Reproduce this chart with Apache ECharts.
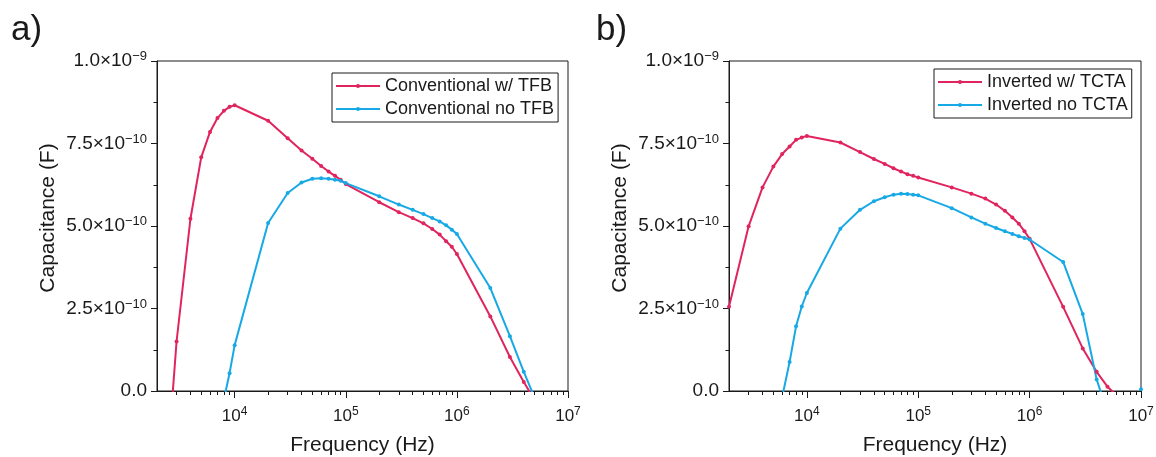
<!DOCTYPE html>
<html>
<head>
<meta charset="utf-8">
<script src="https://cdn.jsdelivr.net/npm/echarts@6/dist/echarts.min.js"></script>
<style>
html,body{margin:0;padding:0;background:#fff;}
#chart{width:1156px;height:457px;}
</style>
</head>
<body>
<div id="chart"></div>
<script>
// Frequencies (Hz)
const freq = [2000,3000,4000,5000,6000,7000,8000,9000,
  1e4,2e4,3e4,4e4,5e4,6e4,7e4,8e4,9e4,
  1e5,2e5,3e5,4e5,5e5,6e5,7e5,8e5,9e5,
  1e6,2e6,3e6,4e6,5e6,6e6,7e6,8e6,9e6,1e7];

// Capacitance (F); null = not shown
const convWithTFB = [-6.4e-10,1.50e-10,5.22e-10,7.08e-10,7.85e-10,8.27e-10,8.49e-10,8.61e-10,
  8.66e-10,8.19e-10,7.66e-10,7.29e-10,7.04e-10,6.82e-10,6.65e-10,6.52e-10,6.40e-10,
  6.27e-10,5.72e-10,5.42e-10,5.24e-10,5.08e-10,4.91e-10,4.74e-10,4.54e-10,4.37e-10,
  4.15e-10,2.26e-10,1.03e-10,0.27e-10,-0.27e-10,null,null,null,null,null];
const convNoTFB = [null,null,null,null,null,null,-0.25e-10,0.54e-10,
  1.39e-10,5.09e-10,6.00e-10,6.32e-10,6.43e-10,6.45e-10,6.43e-10,6.40e-10,6.37e-10,
  6.30e-10,5.90e-10,5.65e-10,5.49e-10,5.36e-10,5.24e-10,5.14e-10,5.02e-10,4.89e-10,
  4.76e-10,3.12e-10,1.66e-10,0.58e-10,-0.20e-10,null,null,null,null,null];
const invWithTCTA = [2.55e-10,4.99e-10,6.17e-10,6.80e-10,7.18e-10,7.41e-10,7.61e-10,7.68e-10,
  7.73e-10,7.53e-10,7.24e-10,7.03e-10,6.88e-10,6.75e-10,6.65e-10,6.57e-10,6.52e-10,
  6.47e-10,6.17e-10,5.98e-10,5.83e-10,5.65e-10,5.46e-10,5.26e-10,5.07e-10,4.84e-10,
  4.61e-10,2.55e-10,1.29e-10,0.58e-10,0.13e-10,-0.12e-10,null,null,null,null];
const invNoTCTA = [null,null,null,null,-0.19e-10,0.88e-10,1.96e-10,2.56e-10,
  2.97e-10,4.92e-10,5.49e-10,5.75e-10,5.87e-10,5.95e-10,5.98e-10,5.97e-10,5.95e-10,
  5.93e-10,5.54e-10,5.26e-10,5.07e-10,4.94e-10,4.84e-10,4.76e-10,4.69e-10,4.64e-10,
  4.59e-10,3.91e-10,2.33e-10,0.35e-10,-0.65e-10,null,null,null,null,0.05e-10];

const seriesNames = ['Conventional w/ TFB','Conventional no TFB','Inverted w/ TCTA','Inverted no TCTA'];
const panelLabels = ['a)','b)'];
const xMajorTicks = [1e4,1e5,1e6,1e7];
const xMinorTicks = [3000,4000,5000,6000,7000,8000,9000,
  2e4,3e4,4e4,5e4,6e4,7e4,8e4,9e4,
  2e5,3e5,4e5,5e5,6e5,7e5,8e5,9e5,
  2e6,3e6,4e6,5e6,6e6,7e6,8e6,9e6];
const xMin = 2000, xMax = 1e7;
const yMin = 0, yMax = 1e-9, yStep = 2.5e-10;

const RED = '#E0245E', BLUE = '#17A9E5';
const FONT = '"Liberation Sans", Arial, sans-serif';
const INK = '#1a1a1a';

function pairs(vals){ return freq.map((f,i)=>[f, vals[i]===null ? null : vals[i]]); }

function yFmt(v){
  if (Math.abs(v) < 1e-15) return '0.0';
  const e = Math.floor(Math.log10(v) + 1e-9);
  const m = (v / Math.pow(10, e)).toFixed(1);
  return m + '×10{sup|−' + (-e) + '}';
}
function xFmt(v){
  const e = Math.round(Math.log10(v));
  return '10{sup|' + e + '}';
}

const grids = [
  {left:157, top:61, width:411, height:330, show:true, borderColor:INK, borderWidth:1, backgroundColor:'transparent', containLabel:false, outerBoundsMode:'none'},
  {left:729, top:61, width:412, height:330, show:true, borderColor:INK, borderWidth:1, backgroundColor:'transparent', containLabel:false, outerBoundsMode:'none'}
];

const xAxes = [], yAxes = [];
[0,1].forEach(g=>{
  xAxes.push({
    type:'log', logBase:10, gridIndex:g, min:xMin, max:xMax, position:'bottom',
    name:'Frequency (Hz)', nameLocation:'middle', nameGap:44,
    nameTextStyle:{fontFamily:FONT, fontSize:21, color:INK},
    axisLine:{show:true, lineStyle:{color:INK, width:1}},
    axisTick:{show:true, inside:false, length:7, customValues:xMajorTicks, lineStyle:{color:INK, width:1}},
    axisLabel:{show:true, customValues:xMajorTicks, formatter:xFmt, margin:15,
      fontFamily:FONT, fontSize:17, color:INK,
      rich:{sup:{fontFamily:FONT, fontSize:12, color:INK, verticalAlign:'top', padding:[0,0,8,0]}}},
    splitLine:{show:false}, minorTick:{show:false}
  });
  xAxes.push({
    type:'log', logBase:10, gridIndex:g, min:xMin, max:xMax, position:'bottom', offset:0,
    axisLine:{show:false},
    axisTick:{show:true, inside:false, length:4, customValues:xMinorTicks, lineStyle:{color:INK, width:1}},
    axisLabel:{show:false},
    splitLine:{show:false}
  });
  yAxes.push({
    type:'value', gridIndex:g, min:yMin, max:yMax, interval:yStep, position:'left',
    name:'Capacitance (F)', nameLocation:'middle', nameGap:98,
    nameTextStyle:{fontFamily:FONT, fontSize:21, color:INK, padding:[0,0,0,16]},
    axisLine:{show:true, lineStyle:{color:INK, width:1}},
    axisTick:{show:true, length:6, lineStyle:{color:INK, width:1}},
    minorTick:{show:true, splitNumber:2, length:3.5, lineStyle:{color:INK, width:1}},
    axisLabel:{formatter:yFmt, margin:10, fontFamily:FONT, fontSize:19, color:INK,
      rich:{sup:{fontFamily:FONT, fontSize:13, color:INK, verticalAlign:'top', padding:[0,0,9,0]}}},
    splitLine:{show:false}
  });
});

function mkSeries(name, vals, color, g){
  return {
    name:name, type:'line', xAxisIndex:g*2, yAxisIndex:g, data:pairs(vals),
    symbol:'circle', symbolSize:4, showSymbol:true, showAllSymbol:true,
    lineStyle:{color:color, width:2}, itemStyle:{color:color},
    clip:true, animation:false, connectNulls:false, z:3
  };
}

const legendBase = {
  orient:'vertical', backgroundColor:'#fff', borderColor:INK, borderWidth:1,
  padding:[3,4,3,3], itemGap:3, itemWidth:44, itemHeight:5,
  textStyle:{fontFamily:FONT, fontSize:18, color:INK, lineHeight:20}
};

const option = {
  animation:false,
  backgroundColor:'#fff',
  title:[
    {text:panelLabels[0], left:6, top:8, textStyle:{fontFamily:FONT, fontSize:35, fontWeight:'normal', color:INK}},
    {text:panelLabels[1], left:591, top:8, textStyle:{fontFamily:FONT, fontSize:35, fontWeight:'normal', color:INK}}
  ],
  grid:grids,
  xAxis:xAxes,
  yAxis:yAxes,
  legend:[
    Object.assign({}, legendBase, {left:332, top:73, data:[seriesNames[0], seriesNames[1]]}),
    Object.assign({}, legendBase, {left:934, top:69, data:[seriesNames[2], seriesNames[3]]})
  ],
  series:[
    mkSeries(seriesNames[0], convWithTFB, RED, 0),
    mkSeries(seriesNames[1], convNoTFB, BLUE, 0),
    mkSeries(seriesNames[2], invWithTCTA, RED, 1),
    mkSeries(seriesNames[3], invNoTCTA, BLUE, 1)
  ]
};

const chart = echarts.init(document.getElementById('chart'), null, {renderer:'canvas'});
chart.setOption(option);
</script>
</body>
</html>
